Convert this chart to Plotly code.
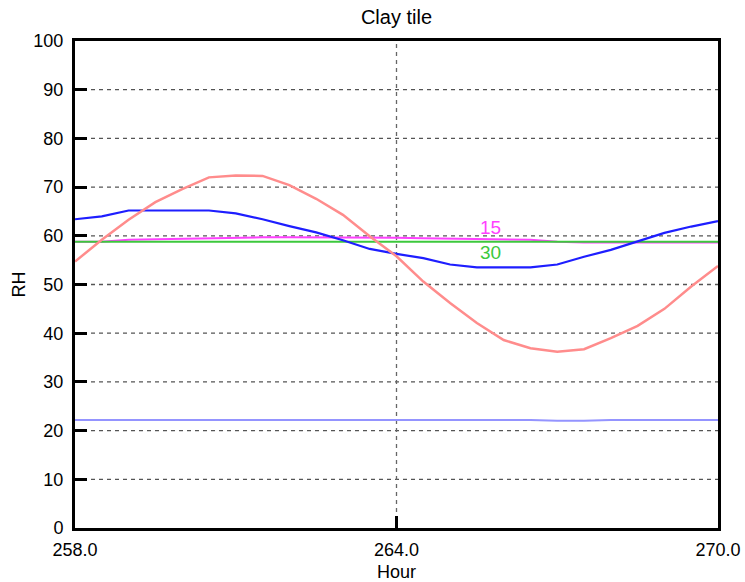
import plotly.graph_objects as go

# Hourly time axis (half-hour steps)
hours = [258.0, 258.5, 259.0, 259.5, 260.0, 260.5, 261.0, 261.5, 262.0, 262.5,
         263.0, 263.5, 264.0, 264.5, 265.0, 265.5, 266.0, 266.5, 267.0, 267.5,
         268.0, 268.5, 269.0, 269.5, 270.0]

# Relative humidity series
rh_outside = [54.7, 59.2, 63.3, 66.9, 69.6, 72.0, 72.4, 72.3, 70.4, 67.6,
              64.3, 59.9, 55.8, 50.6, 46.2, 42.1, 38.6, 36.9, 36.2, 36.7,
              39.0, 41.5, 45.0, 49.6, 53.8]
rh_surface = [63.4, 64.0, 65.2, 65.2, 65.2, 65.2, 64.6, 63.4, 62.0, 60.7,
              59.1, 57.3, 56.3, 55.4, 54.1, 53.5, 53.5, 53.5, 54.1, 55.7,
              57.1, 58.9, 60.6, 61.9, 63.0]
rh_depth15 = [58.8, 58.8, 59.2, 59.3, 59.5, 59.6, 59.6, 59.7, 59.7, 59.7,
              59.7, 59.7, 59.6, 59.5, 59.4, 59.4, 59.3, 59.2, 58.8, 58.6,
              58.6, 58.6, 58.6, 58.6, 58.6]
rh_depth30 = [58.8] * len(hours)
rh_inside = [22.2, 22.2, 22.2, 22.2, 22.2, 22.2, 22.2, 22.2, 22.2, 22.2,
             22.2, 22.2, 22.2, 22.2, 22.2, 22.2, 22.2, 22.2, 22.0, 22.0,
             22.2, 22.2, 22.2, 22.2, 22.2]

x_ticks = [258.0, 264.0, 270.0]
x_tick_text = ["258.0", "264.0", "270.0"]
y_ticks = list(range(0, 101, 10))

FONT = "Liberation Sans, Arial, sans-serif"

fig = go.Figure()

series = [
    (rh_inside, "#9494FF", 2),
    (rh_depth15, "#FF40FF", 2),
    (rh_depth30, "#3CC83C", 2),
    (rh_surface, "#1E1EFF", 2.2),
    (rh_outside, "#FF8C8C", 2.5),
]
for values, color, width in series:
    fig.add_trace(go.Scatter(x=hours, y=values, mode="lines",
                             line=dict(color=color, width=width),
                             showlegend=False, hoverinfo="skip"))

fig.add_annotation(x=265.75, y=61.7, text="15", showarrow=False,
                   font=dict(family=FONT, size=19, color="#FF40FF"))
fig.add_annotation(x=265.75, y=56.6, text="30", showarrow=False,
                   font=dict(family=FONT, size=19, color="#3CC83C"))

# Dashed guide lines
for yv in range(10, 100, 10):
    fig.add_shape(type="line", xref="x", yref="y", x0=258, x1=270, y0=yv, y1=yv,
                  line=dict(color="#555555", width=1.3, dash="4px,4px"), layer="below")
fig.add_shape(type="line", xref="x", yref="y", x0=264, x1=264, y0=0, y1=100,
              line=dict(color="#666666", width=1.3, dash="4px,4px"), layer="below")

fig.update_layout(
    width=745, height=582,
    margin=dict(l=75, r=27, t=41, b=54, autoexpand=False),
    plot_bgcolor="white", paper_bgcolor="white",
    font=dict(family=FONT, size=18, color="black"),
    title=dict(text="Clay tile", x=0.5, xref="paper", xanchor="center",
               y=1 - 17 / 582, yanchor="middle",
               font=dict(family=FONT, size=20, color="black")),
    xaxis=dict(range=[258, 270], tickvals=x_ticks, ticktext=x_tick_text,
               automargin=False, showgrid=False, zeroline=False,
               showline=True, mirror=True, linecolor="black", linewidth=3,
               ticks="inside", ticklen=12, tickwidth=3, tickcolor="black",
               ticklabelstandoff=3,
               tickfont=dict(family=FONT, size=18),
               title=dict(text="Hour", standoff=12, font=dict(family=FONT, size=18))),
    yaxis=dict(range=[0, 100], tickvals=y_ticks,
               automargin=False, showgrid=False, zeroline=False,
               showline=True, mirror=True, linecolor="black", linewidth=3,
               ticks="inside", ticklen=12, tickwidth=3, tickcolor="black",
               ticklabelstandoff=5,
               tickfont=dict(family=FONT, size=18),
               title=dict(text="RH", standoff=4, font=dict(family=FONT, size=18))),
)

fig.write_html("out.html")
